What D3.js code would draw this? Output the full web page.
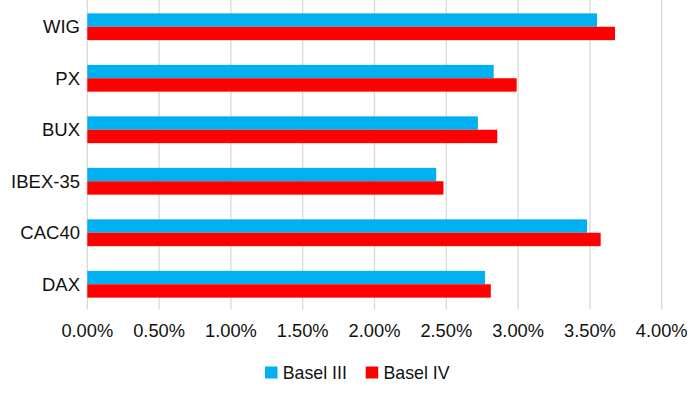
<!DOCTYPE html>
<html><head><meta charset="utf-8">
<script src="https://cdn.jsdelivr.net/npm/d3@7"></script>
<style>body{margin:0;background:#fff}svg{display:block}text{font-family:"Liberation Sans",Arial,sans-serif;fill:#111}</style>
</head><body><svg id="c" width="700" height="396"></svg>
<script>
const categories = ["WIG","PX","BUX","IBEX-35","CAC40","DAX"];
const basel3 = [3.55, 2.83, 2.72, 2.43, 3.48, 2.77];
const basel4 = [3.675, 2.99, 2.855, 2.48, 3.575, 2.81];
const seriesNames = ["Basel III","Basel IV"];
const seriesColors = ["#00B0F0","#FF0000"];
const xTicks = [0,0.5,1,1.5,2,2.5,3,3.5,4];

const svg = d3.select("#c");
const x = d3.scaleLinear().domain([0,4]).range([87.3,661.7]);
const y = d3.scaleBand().domain(categories).range([1,310]).paddingInner(0.48).paddingOuter(0.24);
const sub = d3.scaleBand().domain([0,1]).range([0,y.bandwidth()]);

// gridlines
svg.append("g").selectAll("line").data(xTicks).join("line")
  .attr("x1",d=>x(d)).attr("x2",d=>x(d)).attr("y1",0).attr("y2",309.5)
  .attr("stroke","#d9d9d9").attr("stroke-width",1.3);

// bars
const series = [basel3, basel4];
series.forEach((vals,si)=>{
  svg.append("g").selectAll("rect").data(categories).join("rect")
    .attr("x",x(0)).attr("y",d=>y(d)+sub(si))
    .attr("width",(d,i)=>x(vals[i])-x(0)).attr("height",sub.bandwidth())
    .attr("fill",seriesColors[si]);
});

// category labels
svg.append("g").selectAll("text").data(categories).join("text")
  .attr("x",80).attr("y",d=>y(d)+y.bandwidth()/2).attr("dy","0.36em")
  .attr("text-anchor","end").attr("font-size",18.5).text(d=>d);

// tick labels
svg.append("g").selectAll("text").data(xTicks).join("text")
  .attr("x",d=>x(d)).attr("y",330).attr("dy","0.36em")
  .attr("text-anchor","middle").attr("font-size",18.3).text(d=>d3.format(".2f")(d)+"%");

// legend
const legX = [265, 365.7];
seriesNames.forEach((n,i)=>{
  svg.append("rect").attr("x",legX[i]).attr("y",366.5).attr("width",12.5).attr("height",12)
    .attr("fill",seriesColors[i]);
  svg.append("text").attr("x",legX[i]+17.7).attr("y",372.5).attr("dy","0.36em")
    .attr("font-size",17.8).text(n);
});
</script></body></html>
